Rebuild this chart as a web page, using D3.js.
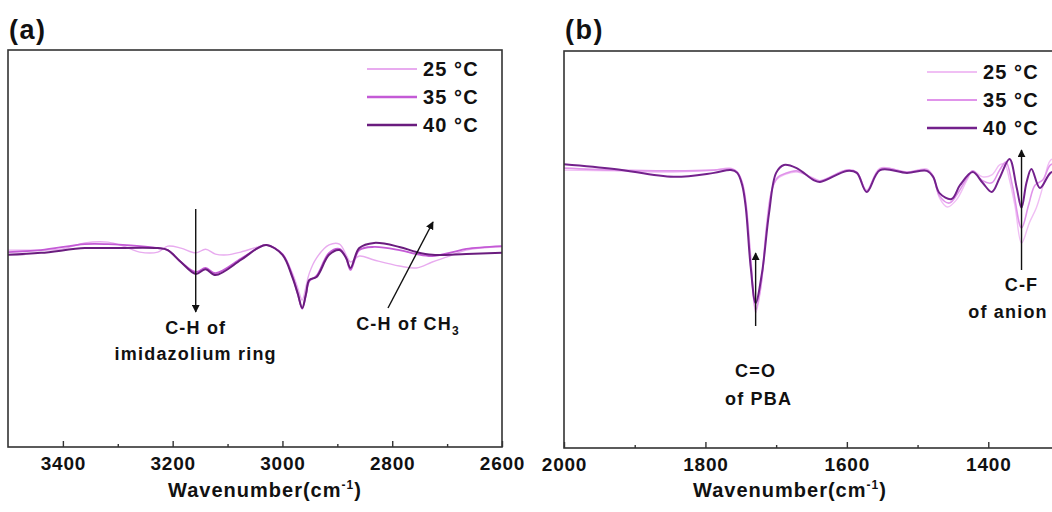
<!DOCTYPE html>
<html>
<head>
  <title>FTIR spectra</title>
  <script src="https://cdn.jsdelivr.net/npm/d3@7"></script>
  <style>
    body { margin: 0; background: #fff; font-family: "Liberation Sans", Arial, sans-serif; }
    svg text { font-family: "Liberation Sans", Arial, sans-serif; font-weight: bold; fill: #111; }
    .line { fill: none; }
  </style>
</head>
<body>
  <div id="chart"></div>
  <script>
    const seriesLabels = ["25 °C", "35 °C", "40 °C"];

    // panel (a): 3500-2600 cm-1, [wavenumber, transmittance a.u.]
    const a25 = [[3500,49.6],[3440,49.6],[3400,49.9],[3360,51.4],[3318,51.6],[3290,50.6],[3260,49.1],[3227,49.1],[3209,50.6],[3185,50.1],[3158,48.9],[3140,49.8],[3122,48.6],[3100,48.4],[3076,49.1],[3045,50.4],[3029,50.9],[3000,48.6],[2982,43.8],[2972,40.0],[2964,37.0],[2957,40.5],[2951,43.8],[2938,47.6],[2915,50.9],[2896,51.1],[2884,48.4],[2876,46.6],[2860,48.1],[2833,47.1],[2787,45.6],[2756,45.1],[2727,46.6],[2700,47.9],[2665,49.6],[2600,50.4]];
    const a35 = [[3500,49.1],[3440,49.6],[3360,51.1],[3318,51.1],[3260,50.6],[3227,50.1],[3209,49.6],[3185,46.6],[3158,44.1],[3140,45.1],[3122,43.8],[3076,47.4],[3045,50.1],[3029,50.9],[3000,48.6],[2982,43.1],[2972,38.5],[2964,34.8],[2957,38.5],[2951,41.8],[2938,43.1],[2915,48.9],[2896,49.9],[2884,47.6],[2876,44.6],[2860,49.6],[2833,50.4],[2787,49.6],[2756,48.6],[2727,48.1],[2690,49.1],[2665,49.9],[2600,50.6]];
    const a40 = [[3500,48.4],[3440,48.9],[3360,50.1],[3318,50.1],[3227,50.1],[3209,49.6],[3185,46.6],[3158,43.6],[3140,44.8],[3122,43.3],[3076,47.1],[3045,50.1],[3029,50.9],[3000,48.4],[2982,42.8],[2972,38.6],[2964,35.0],[2957,38.6],[2951,42.1],[2938,42.8],[2915,48.4],[2896,49.6],[2884,47.6],[2876,45.1],[2860,50.1],[2833,51.4],[2787,50.4],[2756,49.1],[2727,48.4],[2665,48.6],[2600,48.9]];

    // panel (b): 2000-1300 cm-1
    const b25 = [[2000,70.0],[1929,69.8],[1845,69.5],[1788,70.0],[1764,70.5],[1755,69.5],[1748,67.0],[1743,62.5],[1736,48.6],[1729,34.0],[1722,39.8],[1715,53.7],[1708,63.7],[1700,67.5],[1689,68.8],[1671,69.5],[1647,68.0],[1638,67.3],[1600,70.0],[1586,69.5],[1572,65.0],[1553,70.5],[1515,69.5],[1487,70.3],[1478,68.5],[1469,63.0],[1458,60.7],[1445,62.5],[1430,67.5],[1422,69.8],[1408,68.3],[1395,68.8],[1384,71.3],[1377,71.5],[1370,67.5],[1362,60.7],[1353,51.6],[1342,56.7],[1332,60.5],[1323,65.7],[1312,72.5],[1300,73.0]];
    const b35 = [[2000,70.5],[1929,70.0],[1845,69.8],[1788,70.0],[1764,70.3],[1755,69.5],[1748,66.8],[1743,61.7],[1736,47.4],[1729,34.8],[1721,41.6],[1713,56.2],[1705,65.7],[1697,68.3],[1689,69.0],[1671,69.8],[1647,67.8],[1638,67.3],[1600,70.0],[1586,69.5],[1572,64.7],[1553,70.3],[1515,69.5],[1487,70.0],[1478,68.5],[1469,63.5],[1455,61.7],[1442,64.5],[1430,68.0],[1422,69.8],[1408,67.3],[1395,66.8],[1384,70.0],[1375,72.0],[1366,66.2],[1353,55.4],[1343,61.2],[1334,66.2],[1323,67.5],[1312,71.3],[1300,71.8]];
    const b40 = [[2000,71.5],[1929,70.3],[1845,68.3],[1788,69.3],[1764,70.0],[1755,69.3],[1748,66.2],[1743,60.7],[1736,45.6],[1729,36.5],[1720,44.1],[1710,59.2],[1700,69.3],[1689,71.3],[1671,70.5],[1647,67.5],[1638,67.0],[1600,69.8],[1586,69.3],[1572,64.5],[1553,70.0],[1515,69.3],[1487,69.8],[1478,68.3],[1469,64.2],[1452,62.7],[1440,66.2],[1422,69.5],[1408,66.8],[1395,64.5],[1384,68.0],[1370,72.8],[1360,65.7],[1353,60.5],[1346,66.8],[1339,70.3],[1327,65.5],[1312,69.3],[1300,70.0]];

    const aTicks = [3400, 3200, 3000, 2800, 2600];
    const aMinor = [3300, 3100, 2900, 2700];
    const bTicks = [2000, 1800, 1600, 1400];
    const bMinor = [1900, 1700, 1500, 1300];

    const svg = d3.select("#chart").append("svg")
      .attr("width", 1052).attr("height", 512);

    function panel(o) {
      const x = d3.scaleLinear().domain(o.xDomain).range([o.left, o.right]);
      const y = d3.scaleLinear().domain([0, 100]).range([o.bottom, o.top]);
      const g = svg.append("g");

      const line = d3.line()
        .x(d => x(d[0])).y(d => y(d[1]))
        .curve(d3.curveCatmullRom.alpha(0.5));

      o.series.forEach((s, i) => {
        g.append("path").datum(s)
          .attr("class", "line")
          .attr("stroke", o.colors[i])
          .attr("stroke-width", o.widths[i])
          .attr("d", line);
      });

      // frame
      g.append("rect")
        .attr("x", o.left).attr("y", o.top)
        .attr("width", o.right - o.left).attr("height", o.bottom - o.top)
        .attr("fill", "none").attr("stroke", "#333").attr("stroke-width", 1.6);

      const ax = g.append("g").attr("transform", `translate(0,${o.bottom})`)
        .call(d3.axisBottom(x).tickValues(o.ticks).tickFormat(d3.format("d"))
          .tickSize(-6).tickPadding(10));
      ax.select(".domain").remove();
      ax.selectAll("line").attr("stroke", "#333").attr("stroke-width", 1.4);
      ax.selectAll("text").style("font-size", "19px").style("letter-spacing", "0.8px")
        .attr("fill", "#111");

      const mx = g.append("g").attr("transform", `translate(0,${o.bottom})`)
        .call(d3.axisBottom(x).tickValues(o.minor).tickSize(-3).tickFormat(""));
      mx.select(".domain").remove();
      mx.selectAll("line").attr("stroke", "#333").attr("stroke-width", 1.4);

      const t = g.append("text").attr("x", o.titleX).attr("y", 497)
        .attr("text-anchor", "middle").style("font-size", "20px").style("letter-spacing", "1px");
      t.append("tspan").text("Wavenumber(cm");
      t.append("tspan").attr("dy", -8).style("font-size", "12px").text("-1");
      t.append("tspan").attr("dy", 8).text(")");

      g.append("text").attr("x", o.left + 1).attr("y", 39)
        .style("font-size", "27px").style("letter-spacing", "1.5px").text(o.tag);

      // legend
      seriesLabels.forEach((lab, i) => {
        const ly = o.legY + i * 28;
        g.append("line").attr("x1", o.legX).attr("x2", o.legX + 50)
          .attr("y1", ly).attr("y2", ly)
          .attr("stroke", o.colors[i]).attr("stroke-width", o.widths[i] + 0.5);
        g.append("text").attr("x", o.legX + 56).attr("y", ly + 7)
          .style("font-size", "20px").style("letter-spacing", "1.1px").text(lab);
      });
      return { x, y, g };
    }

    svg.append("defs").append("marker")
      .attr("id", "head").attr("viewBox", "0 0 10 10")
      .attr("refX", 9).attr("refY", 5)
      .attr("markerWidth", 8).attr("markerHeight", 8)
      .attr("markerUnits", "userSpaceOnUse")
      .attr("orient", "auto")
      .append("path").attr("d", "M0,0 L10,5 L0,10 z").attr("fill", "#111");

    function arrow(g, x1, y1, x2, y2) {
      g.append("line").attr("x1", x1).attr("y1", y1).attr("x2", x2).attr("y2", y2)
        .attr("stroke", "#111").attr("stroke-width", 1.4)
        .attr("marker-end", "url(#head)");
    }
    function label(g, x, y, txt) {
      return g.append("text").attr("x", x).attr("y", y)
        .attr("text-anchor", "middle").style("font-size", "18px")
        .style("letter-spacing", "1.2px").text(txt);
    }

    const A = panel({
      tag: "(a)", xDomain: [3500, 2600], left: 8, right: 502, top: 50, bottom: 447,
      series: [a25, a35, a40], ticks: aTicks, minor: aMinor,
      colors: ["#e8abef", "#c45ad6", "#6a1c7e"], widths: [1.4, 1.8, 2],
      legX: 367, legY: 69, titleX: 265
    });
    arrow(A.g, A.x(3158), 209, A.x(3158), 312);
    label(A.g, A.x(3158), 334, "C-H of");
    label(A.g, A.x(3158), 360, "imidazolium ring");
    arrow(A.g, 388, 308, 433, 222);
    const ch = label(A.g, 408, 330, "C-H of CH");
    ch.append("tspan").attr("dy", 5).style("font-size", "12px").text("3");

    const B = panel({
      tag: "(b)", xDomain: [2000, 1300], left: 564, right: 1059, top: 51, bottom: 448,
      series: [b25, b35, b40], ticks: bTicks, minor: bMinor,
      colors: ["#f0bff4", "#e094ea", "#73218c"], widths: [1.4, 1.6, 2],
      legX: 927, legY: 72, titleX: 790
    });
    arrow(B.g, B.x(1729), 326, B.x(1729), 253);
    label(B.g, B.x(1729), 377, "C=O");
    label(B.g, B.x(1729) + 3, 405, "of PBA");
    arrow(B.g, B.x(1353), 270, B.x(1353), 150);
    label(B.g, B.x(1353), 291, "C-F");
    label(B.g, 1008, 318, "of anion");
  </script>
</body>
</html>
